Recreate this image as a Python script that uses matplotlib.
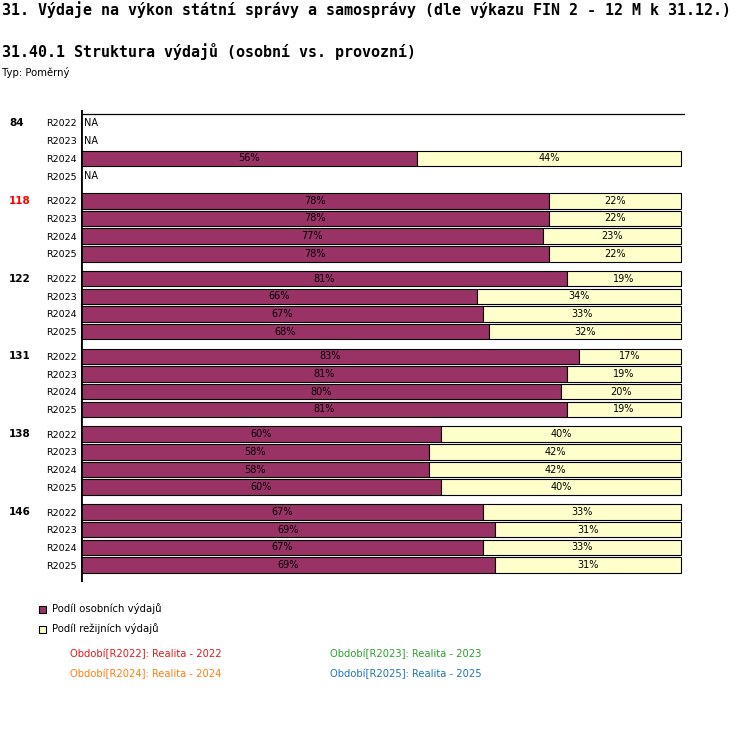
import numpy as np
import matplotlib
matplotlib.use("Agg")
import matplotlib.pyplot as plt
from matplotlib.patches import Rectangle

# Data
groups = ["84", "118", "122", "131", "138", "146"]
group_colors = ["black", "red", "black", "black", "black", "black"]
periods = ["R2022", "R2023", "R2024", "R2025"]
nan = np.nan
osobni = [
    [nan, nan, 56, nan],
    [78, 78, 77, 78],
    [81, 66, 67, 68],
    [83, 81, 80, 81],
    [60, 58, 58, 60],
    [67, 69, 67, 69],
]
rezijni = [
    [nan, nan, 44, nan],
    [22, 22, 23, 22],
    [19, 34, 33, 32],
    [17, 19, 20, 19],
    [40, 42, 42, 40],
    [33, 31, 33, 31],
]
series_names = ["Podíl osobních výdajů", "Podíl režijních výdajů"]
series_colors = ["#993366", "#ffffcc"]
period_notes = [
    "Období[R2022]: Realita - 2022",
    "Období[R2023]: Realita - 2023",
    "Období[R2024]: Realita - 2024",
    "Období[R2025]: Realita - 2025",
]
note_colors = ["#e31a1c", "#2ca02c", "#ff7f0e", "#1f77b4"]

W, H = 750, 732
fig = plt.figure(figsize=(W / 100, H / 100), dpi=100)


def fx(px):
    return px / W


def fy(py):
    return 1 - py / H


# titulky
fig.text(fx(2), fy(10), "31. Výdaje na výkon státní správy a samosprávy (dle výkazu FIN 2 - 12 M k 31.12.)",
         family="DejaVu Sans Mono", weight="bold", fontsize=10.8, va="center", ha="left")
fig.text(fx(2), fy(51), "31.40.1 Struktura výdajů (osobní vs. provozní)",
         family="DejaVu Sans Mono", weight="bold", fontsize=10.8, va="center", ha="left")
fig.text(fx(2), fy(73), "Typ: Poměrný", fontsize=7.3, va="center", ha="left")

# osa v pixelech
left, right, top, bottom = 81, 685, 110, 582
ax = fig.add_axes([fx(left), fy(bottom), fx(right - left), (bottom - top) / H])
xmax = 100 * (right - left) / 600
ax.set_xlim(0, xmax)
ax.set_ylim(bottom, top)
for s in ax.spines.values():
    s.set_visible(False)
ax.set_xticks([])
ax.hlines(114, 0, xmax, color="black", lw=0.9)
ax.axvline(0, color="black", lw=2)

bar_h = 15.5
ypos, ylabels = [], []
for g, name in enumerate(groups):
    for r, per in enumerate(periods):
        y = 123 + g * 77.8 + r * 17.67
        ypos.append(y)
        ylabels.append(per)
        a = osobni[g][r]
        b = rezijni[g][r]
        if np.isnan(a):
            ax.text(0.5, y, "NA", fontsize=7, va="center", ha="left")
            continue
        ax.barh(y, a, height=bar_h, left=0, color=series_colors[0], edgecolor="black", lw=0.8)
        ax.barh(y, b, height=bar_h, left=a, color=series_colors[1], edgecolor="black", lw=0.8)
        ax.text(a / 2, y, f"{a:.0f}%", fontsize=7, va="center", ha="center")
        ax.text(a + b / 2, y, f"{b:.0f}%", fontsize=7, va="center", ha="center")
    fig.text(fx(9), fy(123 + g * 77.8), name, fontsize=7.5, weight="bold",
             color=group_colors[g], va="center", ha="left")

ax.set_yticks(ypos, ylabels)
ax.tick_params(axis="y", length=0, pad=3, labelsize=6.8)

# legenda
for i, (nm, col) in enumerate(zip(series_names, series_colors)):
    yc = 609 + i * 20
    fig.patches.append(Rectangle((fx(39), fy(yc + 3.5)), 7 / W, 7 / H, transform=fig.transFigure,
                                 facecolor=col, edgecolor="black", lw=0.8))
    fig.text(fx(52), fy(yc), nm, fontsize=7.3, va="center", ha="left")

for i, (txt, col) in enumerate(zip(period_notes, note_colors)):
    x = 70 if i % 2 == 0 else 330
    y = 654 + (i // 2) * 20
    fig.text(fx(x), fy(y), txt, fontsize=7.2, color=col, va="center", ha="left")

fig.savefig("out.png", dpi=100)
